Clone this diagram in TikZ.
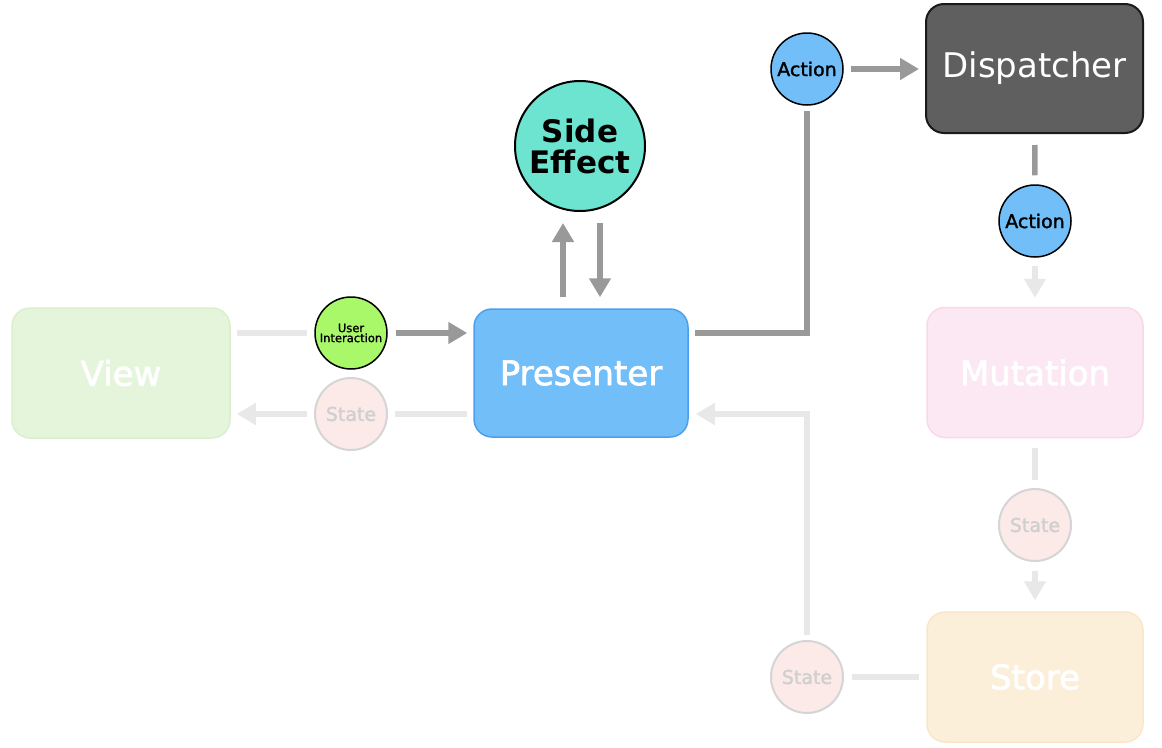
\documentclass[tikz,border=0pt]{standalone}
\usepackage{fontspec}
\setmainfont{DejaVu Sans}
\newfontfamily\semib[FakeBold=2]{DejaVu Sans}
\newfontfamily\smallsemib[FakeBold=1.5]{DejaVu Sans}
\usetikzlibrary{arrows.meta}
\definecolor{viewfill}{HTML}{E5F5DC}
\definecolor{viewdraw}{HTML}{D9EFCD}
\definecolor{presfill}{HTML}{72BEF8}
\definecolor{presdraw}{HTML}{4C9FF0}
\definecolor{dispfill}{HTML}{5F5F5F}
\definecolor{dispdraw}{HTML}{1A1A1A}
\definecolor{mutfill}{HTML}{FCE8F3}
\definecolor{mutdraw}{HTML}{F7D9E8}
\definecolor{storefill}{HTML}{FCEFD9}
\definecolor{storedraw}{HTML}{F9E6C8}
\definecolor{sefill}{HTML}{6CE4CF}
\definecolor{uifill}{HTML}{A8F86A}
\definecolor{stfill}{HTML}{FBEAE8}
\definecolor{stdraw}{HTML}{D5D5D5}
\definecolor{sttext}{HTML}{CFCFCF}
\definecolor{darkline}{HTML}{999999}
\definecolor{lightline}{HTML}{E8E8E8}
\begin{document}
\begin{tikzpicture}[x=1pt,y=-1pt,
  box/.style={rectangle, rounded corners=18pt, minimum width=216pt, minimum height=130pt, inner sep=0pt, line width=1.5pt, text=white, font=\fontsize{34}{40}\selectfont},
  bubble/.style={circle, minimum size=72pt, inner sep=0pt, line width=1.5pt, draw=black, fill=presfill, font=\smallsemib\fontsize{19}{22}\selectfont},
  statebubble/.style={circle, minimum size=72pt, inner sep=0pt, line width=2pt, draw=stdraw, fill=stfill, text=sttext, font=\smallsemib\fontsize{19}{22}\selectfont},
  dline/.style={draw=darkline, line width=5.5pt},
  lline/.style={draw=lightline, line width=5.5pt},
  tip/.style={-{Triangle[length=19pt,width=21pt]}}
]
\useasboundingbox (0,0) rectangle (1162,747);

\node[box, fill=viewfill, draw=viewdraw, minimum width=218pt] (view) at (121,373) {\semib View};
\node[box, fill=presfill, draw=presdraw, minimum width=214pt, minimum height=128pt] (pres) at (581,373) {\semib Presenter};
\node[box, fill=dispfill, draw=dispdraw, minimum width=217pt, minimum height=129pt, line width=2pt] (disp) at (1034.5,68.5) {Dispatcher};
\node[box, fill=mutfill, draw=mutdraw] (mut) at (1035,372.5) {\semib Mutation};
\node[box, fill=storefill, draw=storedraw] (store) at (1035,677) {\semib Store};

\node[circle, minimum size=130pt, inner sep=0pt, line width=2pt, draw=black, fill=sefill, align=center, font=\bfseries\fontsize{31}{31}\selectfont] (se) at (580,146) {Side\\Effect};

\node[bubble] (a1) at (807,69) {Action};
\node[bubble] (a2) at (1035,221) {Action};
\node[bubble, fill=uifill, align=center, font=\smallsemib\fontsize{11.5}{10}\selectfont] (ui) at (351,333) {User\\Interaction};
\node[statebubble] (st1) at (351,414) {State};
\node[statebubble] (st2) at (1035,525) {State};
\node[statebubble] (st3) at (807,677) {State};

% View <-> Presenter
\draw[lline, shorten <=6pt, shorten >=7pt] (view.east |- ui) -- (ui);
\draw[dline, tip, shorten <=8pt, shorten >=6pt] (ui) -- (ui -| pres.west);
\draw[lline, shorten <=6pt, shorten >=7pt] (pres.west |- st1) -- (st1);
\draw[lline, tip, shorten <=7pt, shorten >=6pt] (st1) -- (st1 -| view.east);

% Presenter <-> Side Effect
\draw[dline, tip, shorten <=11pt, shorten >=11pt] ([xshift=-18pt]pres.north) -- ([xshift=-18pt]pres.north |- se.south);
\draw[dline, tip, shorten <=11pt, shorten >=11pt] ([xshift=19pt]pres.north |- se.south) -- ([xshift=19pt]pres.north);

% Presenter -> Action -> Dispatcher
\draw[dline, shorten <=6pt, shorten >=5pt] (pres.east |- ui) -| (a1);
\draw[dline, tip, shorten <=7pt, shorten >=6pt] (a1) -- (a1 -| disp.west);
\draw[dline, shorten <=11pt, shorten >=9pt] (disp) -- (a2);

% Action -> Mutation -> State -> Store
\draw[lline, tip, shorten <=8pt, shorten >=9pt] (a2) -- (mut);
\draw[lline, shorten <=10pt, shorten >=8pt] (mut) -- (st2);
\draw[lline, tip, shorten <=9pt, shorten >=11pt] (st2) -- (store);

% Store -> State -> Presenter
\draw[lline, shorten <=7pt, shorten >=8pt] (store) -- (st3);
\draw[lline, tip, shorten <=5pt, shorten >=7pt] (st3) |- (pres.east |- st1);
\end{tikzpicture}
\end{document}
